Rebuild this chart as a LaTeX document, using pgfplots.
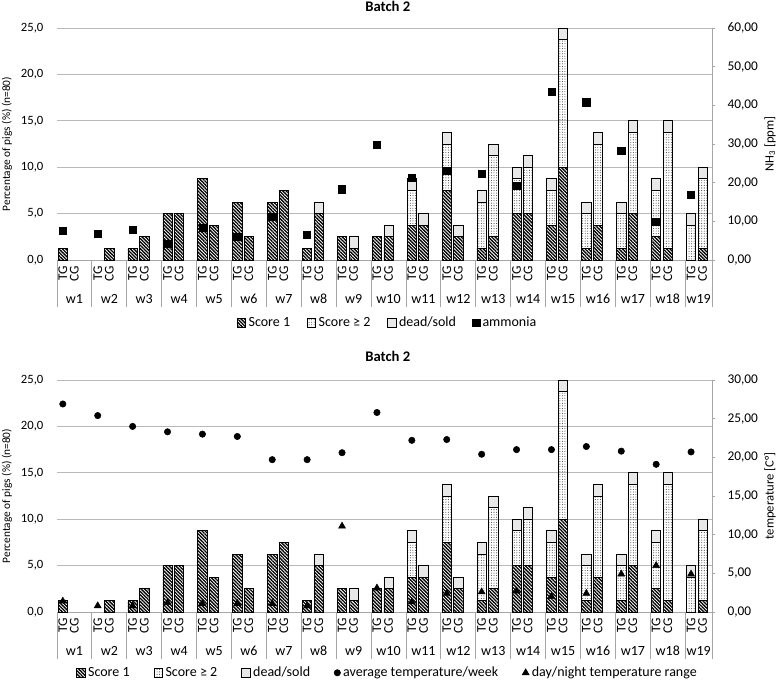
\documentclass[border=0pt]{standalone}
\usepackage{fontspec}
\setmainfont{Carlito}
\usepackage{pgfplots}
\usepackage{pgfplotstable}
\pgfplotsset{compat=1.18}
\usetikzlibrary{patterns.meta}

% share of pigs (%), TG and CG bar of each week
\pgfplotstableread{
x    s1   s2    dd
0.5  1.25 0     0
1.5  0    0     0
3.5  0    0     0
4.5  1.25 0     0
6.5  1.25 0     0
7.5  2.5  0     0
9.5  5    0     0
10.5 5    0     0
12.5 8.75 0     0
13.5 3.75 0     0
15.5 6.25 0     0
16.5 2.5  0     0
18.5 6.25 0     0
19.5 7.5  0     0
21.5 1.25 0     0
22.5 5    0     1.25
24.5 2.5  0     0
25.5 1.25 0     1.25
27.5 2.5  0     0
28.5 2.5  0     1.25
30.5 3.75 3.75  1.25
31.5 3.75 0     1.25
33.5 7.5  5     1.25
34.5 2.5  0     1.25
36.5 1.25 5     1.25
37.5 2.5  8.75  1.25
39.5 5    3.75  1.25
40.5 5    5     1.25
42.5 3.75 3.75  1.25
43.5 10   13.75 1.25
45.5 1.25 3.75  1.25
46.5 3.75 8.75  1.25
48.5 1.25 3.75  1.25
49.5 5    8.75  1.25
51.5 2.5  5     1.25
52.5 1.25 12.5  1.25
54.5 0    3.75  1.25
55.5 1.25 7.5   1.25
}\bars

% ammonia (ppm), weekly
\pgfplotstableread{
x    v
0.5  7.6
3.5  6.7
6.5  7.8
9.5  4.1
12.5 8.4
15.5 6.0
18.5 11.2
21.5 6.6
24.5 18.3
27.5 29.8
30.5 21.3
33.5 23.1
36.5 22.2
39.5 19.1
42.5 43.5
45.5 40.8
48.5 28.3
51.5 9.9
54.5 16.9
}\ammonia

% temperature (C), weekly
\pgfplotstableread{
x    avg  rng
0.5  26.9 1.4
3.5  25.4 0.8
6.5  24.0 0.8
9.5  23.3 1.2
12.5 23.0 1.1
15.5 22.7 1.1
18.5 19.7 1.1
21.5 19.7 0.8
24.5 20.6 11.1
27.5 25.8 3.1
30.5 22.2 1.3
33.5 22.3 2.4
36.5 20.4 2.6
39.5 21.0 2.7
42.5 21.0 2.0
45.5 21.4 2.4
48.5 20.8 4.9
51.5 19.1 6.0
54.5 20.7 4.9
}\temps

\tikzset{wk/.style={yshift=-29.25pt, font=\fontsize{10.5}{12}\selectfont}}
% week names under the TG/CG row
\newcommand\weeks{%
  \node[wk] at (axis cs:1.5,0) {w1};
  \node[wk] at (axis cs:4.5,0) {w2};
  \node[wk] at (axis cs:7.5,0) {w3};
  \node[wk] at (axis cs:10.5,0) {w4};
  \node[wk] at (axis cs:13.5,0) {w5};
  \node[wk] at (axis cs:16.5,0) {w6};
  \node[wk] at (axis cs:19.5,0) {w7};
  \node[wk] at (axis cs:22.5,0) {w8};
  \node[wk] at (axis cs:25.5,0) {w9};
  \node[wk] at (axis cs:28.5,0) {w10};
  \node[wk] at (axis cs:31.5,0) {w11};
  \node[wk] at (axis cs:34.5,0) {w12};
  \node[wk] at (axis cs:37.5,0) {w13};
  \node[wk] at (axis cs:40.5,0) {w14};
  \node[wk] at (axis cs:43.5,0) {w15};
  \node[wk] at (axis cs:46.5,0) {w16};
  \node[wk] at (axis cs:49.5,0) {w17};
  \node[wk] at (axis cs:52.5,0) {w18};
  \node[wk] at (axis cs:55.15,0) {w19};
}
% title of the right axis
\newcommand\rlabel[1]{%
  \path (axis description cs:1,0.5) ++(43.5pt,0pt)
    node[rotate=90, anchor=center, font=\fontsize{9.5}{11}\selectfont] {#1};
}

\pgfplotsset{
  sc1/.style={draw=black, line width=0.55pt, pattern={Lines[angle=-45,distance=1.8pt,line width=1pt]}, pattern color=black},
  sc2/.style={draw=black, line width=0.55pt, pattern={Dots[distance=1.9pt,radius=0.4pt]}, pattern color=black!75},
  dds/.style={draw=black, line width=0.55pt, fill=black!9},
  boxleg/.style={legend image code/.code={\draw[##1] (0pt,-3.2pt) rectangle (6.4pt,3.2pt);}},
  panel/.style={scale only axis, width=491.25pt, height=174pt, xmin=0, xmax=56.3,
    anchor=south west, clip=false},
  leftax/.style={panel, ybar stacked, bar width=0.8,
    axis x line*=bottom, axis y line*=left,
    x axis line style={-, draw=gray!70, line width=0.7pt},
    y axis line style={draw=none},
    ymajorgrids, grid style={gray!55, line width=0.6pt},
    major tick length=0pt, tick align=outside,
    xtick={0.5,1.5,3.5,4.5,6.5,7.5,9.5,10.5,12.5,13.5,15.5,16.5,18.5,19.5,21.5,22.5,24.5,25.5,27.5,28.5,30.5,31.5,33.5,34.5,36.5,37.5,39.5,40.5,42.5,43.5,45.5,46.5,48.5,49.5,51.5,52.5,54.5,55.5},
    xticklabels={TG,CG,TG,CG,TG,CG,TG,CG,TG,CG,TG,CG,TG,CG,TG,CG,TG,CG,TG,CG,TG,CG,TG,CG,TG,CG,TG,CG,TG,CG,TG,CG,TG,CG,TG,CG,TG,CG},
    xticklabel style={rotate=90, anchor=east, inner sep=0pt, xshift=-4.5pt, font=\fontsize{10}{12}\selectfont},
    minor xtick={0,3,6,9,12,15,18,21,24,27,30,33,36,39,42,45,48,51,54,56.3},
    minor tick length=35.25pt,
    minor tick style={draw=gray!70, line width=0.7pt},
    yticklabel style={/pgf/number format/.cd, fixed, fixed zerofill, precision=1, use comma,
      assume math mode=true, /tikz/.cd, anchor=east, inner sep=0pt, xshift=-10pt,
      font=\fontsize{9.5}{12}\selectfont},
    ylabel={Percentage of pigs (\%) (n=80)},
    ylabel style={at={(axis description cs:0,0.5)}, anchor=center, yshift=37.5pt,
      font=\fontsize{8.5}{10}\selectfont},
    title style={at={(axis description cs:0.505,1)}, anchor=center,
      font=\bfseries\fontsize{11}{13}\selectfont},
  },
  rightax/.style={panel, axis y line*=right, axis x line=none,
    y axis line style={-, draw=gray!70, line width=0.7pt},
    major tick length=2.5pt, tick align=outside,
    ytick style={draw=gray!70, line width=0.7pt},
    yticklabel style={/pgf/number format/.cd, fixed, fixed zerofill, precision=2, use comma,
      assume math mode=true, /tikz/.cd, anchor=west, inner sep=0pt, xshift=9pt,
      font=\fontsize{10}{12}\selectfont},
    legend style={draw=none, fill=none, legend columns=-1, anchor=center,
      font=\fontsize{10.5}{12}\selectfont},
  },
}

\begin{document}
\begin{tikzpicture}[font=\fontsize{10.5}{12}\selectfont]
\path[use as bounding box] (0pt,0pt) rectangle (583.5pt,-511.5pt);

% ---------- top panel ----------
\begin{axis}[leftax, at={(42.75pt,-195pt)}, ymin=0, ymax=25, ytick={0,5,...,25},
  title={Batch 2}, title style={yshift=10.5pt}]
\addplot[sc1] table[x=x,y=s1]{\bars};
\addplot[sc2] table[x=x,y=s2]{\bars};
\addplot[dds] table[x=x,y=dd]{\bars};
\weeks
\end{axis}

\begin{axis}[rightax, at={(42.75pt,-195pt)}, ymin=0, ymax=60, ytick={0,10,...,60},
  legend style={at={(0.505,-0.2716)}, /tikz/every even column/.append style={column sep=10.5pt}}]
\addlegendimage{sc1, boxleg}\addlegendentry{Score 1}
\addlegendimage{sc2, boxleg}\addlegendentry{Score ≥ 2}
\addlegendimage{dds, boxleg}\addlegendentry{dead/sold}
\addplot[only marks, mark=square*, mark size=2.7pt, black] table[x=x,y=v]{\ammonia};
\addlegendentry{ammonia}
\rlabel{NH\textsubscript{3} [ppm]}
\end{axis}

% ---------- bottom panel ----------
\begin{axis}[leftax, at={(42.75pt,-459pt)}, ymin=0, ymax=25, ytick={0,5,...,25},
  title={Batch 2}, title style={yshift=12pt}]
\addplot[sc1] table[x=x,y=s1]{\bars};
\addplot[sc2] table[x=x,y=s2]{\bars};
\addplot[dds] table[x=x,y=dd]{\bars};
\weeks
\end{axis}

\begin{axis}[rightax, at={(42.75pt,-459pt)}, ymin=0, ymax=30, ytick={0,5,...,30},
  legend style={at={(0.505,-0.262)}, /tikz/every even column/.append style={column sep=16pt}}]
\addlegendimage{sc1, boxleg}\addlegendentry{Score 1}
\addlegendimage{sc2, boxleg}\addlegendentry{Score ≥ 2}
\addlegendimage{dds, boxleg}\addlegendentry{dead/sold}
\addplot[only marks, mark=*, mark size=2.4pt, black] table[x=x,y=avg]{\temps};
\addlegendentry{average temperature/week}
\addplot[only marks, mark=triangle*, mark size=3pt, black] table[x=x,y=rng]{\temps};
\addlegendentry{day/night temperature range}
\rlabel{temperature [C°]}
\end{axis}
\end{tikzpicture}
\end{document}
